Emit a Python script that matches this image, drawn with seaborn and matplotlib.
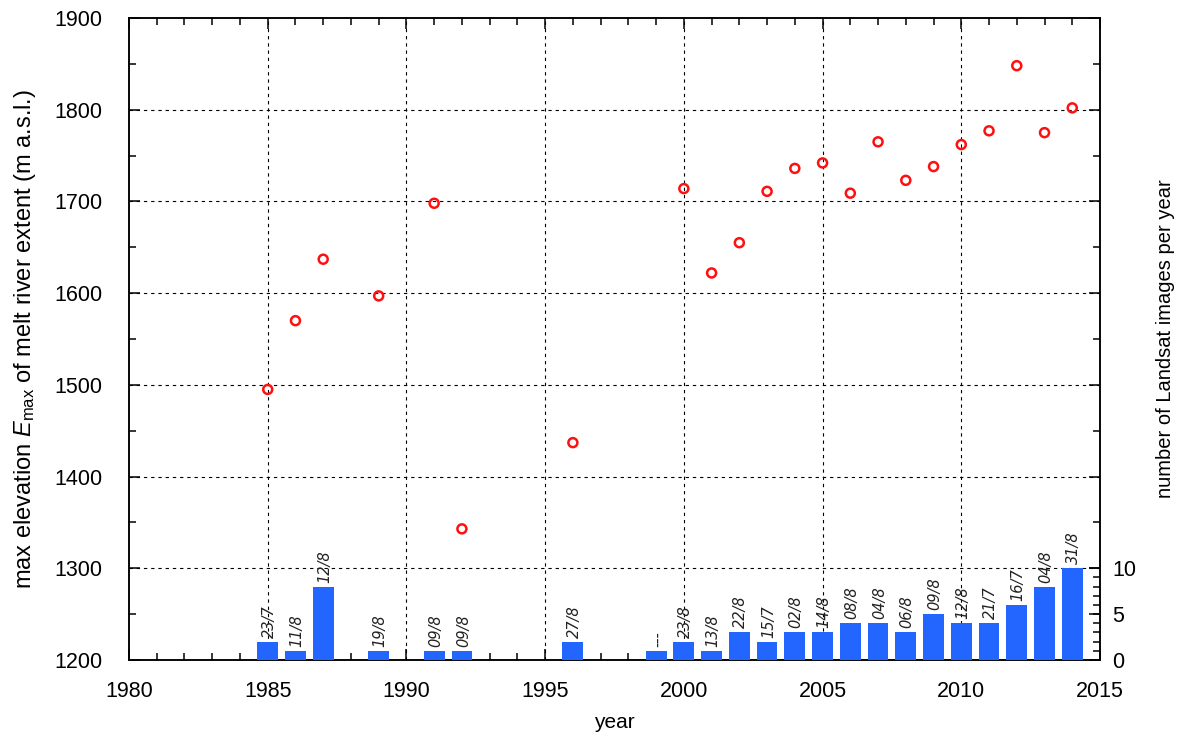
import matplotlib
matplotlib.use('Agg')
import matplotlib.pyplot as plt
import seaborn as sns
import pandas as pd
from matplotlib.ticker import MultipleLocator, FixedLocator

# ---- data ----
elev_years = [1985, 1986, 1987, 1989, 1991, 1992, 1996, 2000, 2001, 2002, 2003,
              2004, 2005, 2006, 2007, 2008, 2009, 2010, 2011, 2012, 2013, 2014]
elev_values = [1495, 1570, 1637, 1597, 1698, 1343, 1437, 1714, 1622, 1655, 1711,
               1736, 1742, 1709, 1765, 1723, 1738, 1762, 1777, 1848, 1775, 1802]

img_years = [1985, 1986, 1987, 1989, 1991, 1992, 1996, 1999, 2000, 2001, 2002, 2003,
             2004, 2005, 2006, 2007, 2008, 2009, 2010, 2011, 2012, 2013, 2014]
img_counts = [2, 1, 8, 1, 1, 1, 2, 1, 2, 1, 3, 2, 3, 3, 4, 4, 3, 5, 4, 4, 6, 8, 10]
img_dates = ["23/7", "11/8", "12/8", "19/8", "09/8", "09/8", "27/8", "---", "23/8",
             "13/8", "22/8", "15/7", "02/8", "14/8", "08/8", "04/8", "06/8", "09/8",
             "12/8", "21/7", "16/7", "04/8", "31/8"]

x_ticks = [1980, 1985, 1990, 1995, 2000, 2005, 2010, 2015]
y_ticks = [1200, 1300, 1400, 1500, 1600, 1700, 1800, 1900]
y2_ticks = [0, 5, 10]

elev_df = pd.DataFrame({"year": elev_years, "elev": elev_values})
img_df = pd.DataFrame({"year": img_years, "count": img_counts})

sns.set_theme(style="white")
plt.rcParams['font.family'] = ['Liberation Sans', 'DejaVu Sans']
plt.rcParams['mathtext.fontset'] = 'custom'
plt.rcParams['mathtext.it'] = 'Liberation Sans:italic'
plt.rcParams['mathtext.rm'] = 'Liberation Sans'

fig = plt.figure(figsize=(11.84, 7.4), dpi=100)
ax = fig.add_axes([129 / 1184, 1 - 660 / 740, (1100 - 129) / 1184, (660 - 18) / 740])
ax2 = ax.twinx()

grid_kw = dict(color='black', linewidth=0.8, linestyle=(0, (3, 3.5)))

# scatter of max elevation
sns.scatterplot(data=elev_df, x="year", y="elev", ax=ax, marker='o', s=42,
                facecolors='none', edgecolor='#ff1010', linewidth=1.8, zorder=5)

# bars of image counts
sns.barplot(data=img_df, x="year", y="count", ax=ax2, native_scale=True,
            width=0.75, color='#2266ff', saturation=1, errorbar=None, zorder=3,
            linewidth=0)

for yr, c, d in zip(img_years, img_counts, img_dates):
    ax2.text(yr + 0.05, c + 0.45, d, rotation=90, ha='center', va='bottom',
             fontstyle='italic', fontsize=10.5, family='DejaVu Sans', color='#222222')

ax.set_xlim(1980, 2015)
ax.set_ylim(1200, 1900)
ax2.set_ylim(0, 70)
ax2.set_xlim(1980, 2015)

ax.xaxis.set_major_locator(FixedLocator(x_ticks))
ax.xaxis.set_minor_locator(MultipleLocator(1))
ax.yaxis.set_major_locator(FixedLocator(y_ticks))
ax.yaxis.set_minor_locator(MultipleLocator(50))
ax2.yaxis.set_major_locator(FixedLocator(y2_ticks))
ax2.yaxis.set_minor_locator(FixedLocator([1, 2, 3, 4, 6, 7, 8, 9]))

# grid on major ticks, but not on the frame
for xv in x_ticks[1:-1]:
    ax.axvline(xv, zorder=0, **grid_kw)
for yv in y_ticks[1:-1]:
    ax.axhline(yv, zorder=0, **grid_kw)
ax.grid(False)
ax2.grid(False)

ax.tick_params(axis='x', which='both', direction='in', top=True, bottom=True,
               labelsize=15.5, pad=15, colors='black')
ax.tick_params(axis='y', which='both', direction='in', left=True, right=True,
               labelsize=15.5, pad=19, colors='black')
ax.tick_params(which='major', length=8, width=1.1)
ax.tick_params(which='minor', length=5, width=1.1)
ax2.tick_params(axis='y', which='both', direction='in', right=True, left=False,
                labelsize=15.5, pad=9, colors='black')
ax2.tick_params(which='major', length=8, width=1.1)
ax2.tick_params(which='minor', length=5, width=1.1)
ax2.tick_params(axis='x', which='both', bottom=False, top=False, labelbottom=False)

for a in (ax, ax2):
    for s in a.spines.values():
        s.set_color('black')
        s.set_linewidth(1.1)
        s.set_visible(True)

ax.set_xlabel("year", fontsize=15, labelpad=8, color='black')
ax.set_ylabel(r"max elevation $E_{\mathrm{max}}$ of melt river extent (m a.s.l.)",
              fontsize=17, labelpad=12, color='black')
ax2.set_ylabel("number of Landsat images per year", fontsize=14.5, labelpad=14,
               color='black')
ax2.set_xlabel("")

fig.savefig("out.png", dpi=100)
